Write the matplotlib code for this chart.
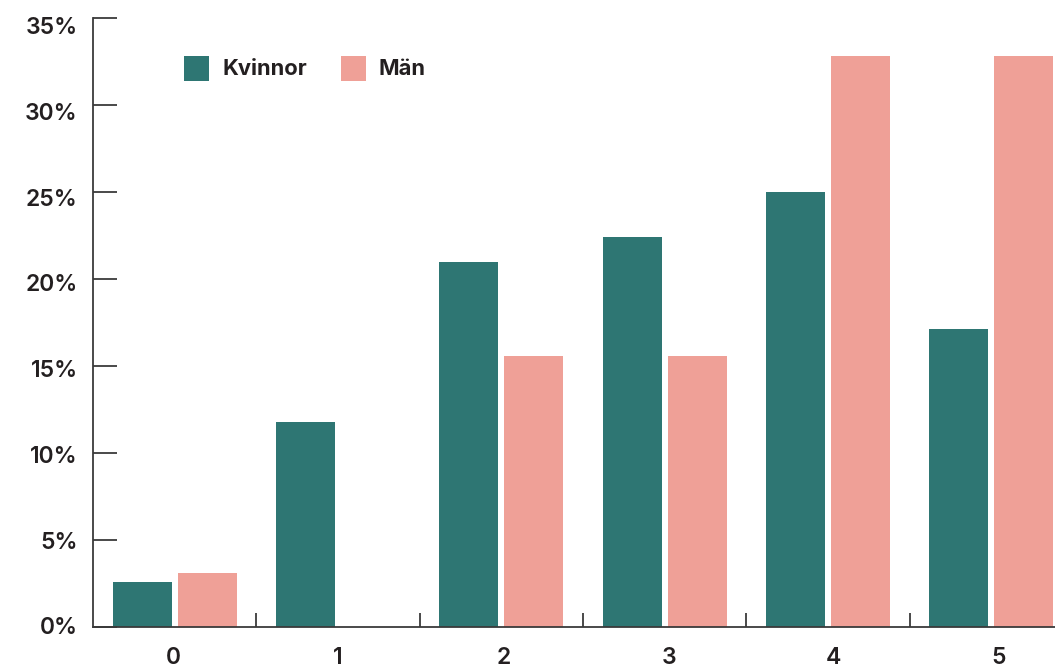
import matplotlib
matplotlib.use("Agg")
import matplotlib.pyplot as plt
from matplotlib.patches import Rectangle
import numpy as np

categories = ["0", "1", "2", "3", "4", "5"]
kvinnor = [2.6, 11.8, 21.0, 22.4, 25.0, 17.1]
man = [3.1, 0.0, 15.6, 15.6, 32.8, 32.8]
series_names = ["Kvinnor", "Män"]
yticks = [0, 5, 10, 15, 20, 25, 30, 35]
ytick_labels = ["0%", "5%", "10%", "15%", "20%", "25%", "30%", "35%"]

TEAL = "#2E7673"
PINK = "#EFA097"
TXT = "#231F20"
AX = "#3a3a3a"

plt.rcParams['font.family'] = ['Inter', 'DejaVu Sans']

W, H = 1055, 669
fig = plt.figure(figsize=(W / 100, H / 100), dpi=100)

left_px, right_px, top_px, bottom_px = 93, 93 + 163.3 * 6, 18, 627
ax = fig.add_axes([left_px / W, (H - bottom_px) / H,
                   (right_px - left_px) / W, (bottom_px - top_px) / H])

x = np.arange(len(categories))
bw = 0.361
off = 0.199
ax.bar(x - off, kvinnor, width=bw, color=TEAL, linewidth=0)
ax.bar(x + off, man, width=bw, color=PINK, linewidth=0)

ax.set_xlim(-0.5, len(categories) - 0.5)
ax.set_ylim(0, 35)

for s in ["top", "right"]:
    ax.spines[s].set_visible(False)
for s in ["left", "bottom"]:
    ax.spines[s].set_color(AX)
    ax.spines[s].set_linewidth(1.3)

# y: tick marks at exact values, labels on a slightly compressed layout (as in the reference)
ax.set_yticks(yticks)
ax.set_yticklabels([])
ax.tick_params(axis="y", which="major", direction="in", length=17, width=1.3, color=AX)
ax.set_yticks([0.06 + v * 0.986 for v in yticks], minor=True)
ax.set_yticklabels(ytick_labels, minor=True)
ax.tick_params(axis="y", which="minor", length=0, pad=11, labelsize=16.5, labelcolor=TXT)

# x: labels with zero-length ticks, group separators as minor ticks
ax.set_xticks([i * 1.0116 - 0.01 for i in x])
ax.set_xticklabels(categories)
ax.tick_params(axis="x", which="major", length=0, pad=14.5, labelsize=16.5, labelcolor=TXT)
ax.set_xticks(np.arange(0.5, len(categories) - 0.5, 1.0), minor=True)
ax.tick_params(axis="x", which="minor", direction="in", length=10, width=1.3, color=AX)

for lab in (ax.get_xticklabels() + ax.get_yticklabels(minor=True)):
    lab.set_fontweight("semibold")

# legend
def fx(px):
    return px / W

def fy(py):
    return (H - py) / H

fig.add_artist(Rectangle((fx(184), fy(81)), 25 / W, 25 / H, transform=fig.transFigure,
                         facecolor=TEAL, edgecolor="none"))
fig.text(fx(222), fy(69), series_names[0], ha="left", va="center", fontsize=15.8,
         fontweight="bold", color=TXT)
fig.add_artist(Rectangle((fx(341), fy(81)), 25 / W, 25 / H, transform=fig.transFigure,
                         facecolor=PINK, edgecolor="none"))
fig.text(fx(378), fy(69), series_names[1], ha="left", va="center", fontsize=15.8,
         fontweight="bold", color=TXT)

fig.savefig("out.png", dpi=100)
